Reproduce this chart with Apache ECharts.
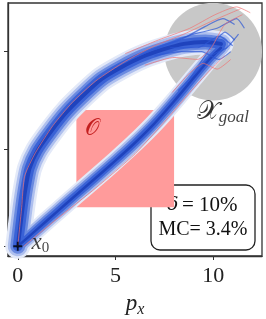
<!DOCTYPE html>
<html><head><meta charset="utf-8">
<script src="https://cdn.jsdelivr.net/npm/echarts@6/dist/echarts.min.js"></script>
<style>html,body{margin:0;padding:0;background:#fff}#c{width:266px;height:319px}</style>
</head><body><div id="c"></div>
<script>
// ---- data ----
const xTicks = [0, 5, 10];
const yTicks = [0, 5, 10];
const xRange = [-0.5, 12.5];
const yRange = [-0.5, 12.5];
const obstacle = [3, 7, 8, 2];           // x0, yTop, x1, yBottom
const goalCenter = [10, 10];
const goalRadius = [2.5];
const startPoint = [0, 0];
const upperPath = [[0,0],[0.1,0.8],[0.25,2],[0.4,3],[0.6,4],[1.0,4.9],[1.7,5.9],[2.5,6.9],[3.4,7.8],[4.3,8.6],[5.3,9.2],[6.3,9.7],[7.4,10.1],[8.5,10.4],[9.6,10.5],[10.4,10.4]];
const lowerPath = [[0,0],[1,0.88],[2,1.77],[3,2.65],[4,3.52],[5,4.4],[6,5.32],[7,6.32],[8,7.45],[9,8.65],[9.8,9.6],[10.4,10.2]];
const redPaths = [
  [[0.3,0],[2,1.4],[4,3.0],[6,4.75],[7.6,6.5],[8.8,7.9],[9.8,9.0],[10.6,9.8]],
  [[0,0],[0.2,2],[0.35,3.6],[0.9,4.8],[1.8,6.2],[2.8,7.4],[4,8.5],[5.5,9.5],[7,10.3],[8.5,10.9],[10,11.6],[11.4,12.2]],
  [[5.5,9.9],[7.2,10.6],[8.8,11.2],[10.1,11.9],[11.2,12.3],[11.9,12.0]],
  [[7.9,7.9],[8.8,8.9],[9.5,9.4],[10.2,9.1],[10.9,9.6]],
  [[6.5,9.3],[8,9.7],[9.2,9.6],[9.9,10.2],[10.6,11.4],[11.5,11.9]]
];
const bluePaths = [
  [[7,10.1],[8.5,10.7],[9.6,11.3],[10.5,11.7],[11.1,11.4]],
  [[7,9.8],[8.4,10],[9.4,10],[10.3,9.6],[10.9,10.0]],
  [[8.6,8.3],[9.4,9.5],[10,10.4],[10.6,11.0],[11.1,10.6]],
  [[6,9.7],[7.6,10.4],[9,10.9],[10.2,11.2],[11.2,11.7],[11.6,11.2]],
  [[8.2,8.0],[9.1,8.9],[9.9,9.8],[10.7,10.2],[11.3,10.9]],
  [[7.8,10.2],[9.2,10.2],[10.3,10.8],[11.0,10.3]]
];
const obstacleLabelPos = [3.8, 6.05];
const goalLabelPos = [8.9, 6.9];
const startLabelPos = [0.45, 0.15];
const boxSymbol = 'δ';
const boxLines = ['= 10%', 'MC= 3.4%'];

// ---- chart ----
const chart = echarts.init(document.getElementById('c'), null, {renderer: 'canvas'});
const serif = '"Liberation Serif","DejaVu Serif",serif';
const series = [];

series.push({
  type: 'custom', clip: true, z: 1,
  data: [obstacle],
  renderItem: (p, api) => {
    const a = api.coord([api.value(0), api.value(1)]);
    const b = api.coord([api.value(2), api.value(3)]);
    return {type: 'rect', shape: {x: a[0], y: a[1], width: b[0]-a[0], height: b[1]-a[1]}, style: {fill: '#ff9b9b'}};
  }
});
series.push({
  type: 'custom', clip: true, z: 1,
  data: [[goalCenter[0], goalCenter[1], goalRadius[0]]],
  renderItem: (p, api) => {
    const c = api.coord([api.value(0), api.value(1)]);
    const r = api.size([api.value(2), 0])[0];
    return {type: 'circle', shape: {cx: c[0], cy: c[1], r: r}, style: {fill: '#c8c8c8'}};
  }
});

function band(path, layers, z) {
  layers.forEach((l, i) => {
    series.push({
      type: 'line', data: path, showSymbol: false, smooth: 0.2, z: z + i*0.01, silent: true,
      lineStyle: {width: l[0], color: l[1], opacity: l[2], cap: 'round', join: 'round'}
    });
  });
}
const upperLayers = [[25,'#e3e9f8',1],[20,'#aebfee',1],[15,'#6a8ae0',1],[10,'#3a62d6',1],[4,'#1f43bd',1]];
const lowerLayers = [[19,'#e3e9f8',1],[15,'#aebfee',1],[11,'#6a8ae0',1],[7,'#3a62d6',1],[2.5,'#1f43bd',1]];
band(upperPath, upperLayers, 2);
band(lowerPath, lowerLayers, 2);

bluePaths.forEach(p => series.push({type:'line', data:p, showSymbol:false, smooth:0.2, z:3, silent:true,
  lineStyle:{width:1.2, color:'#2c57d4', opacity:0.7}}));
redPaths.forEach(p => series.push({type:'line', data:p, showSymbol:false, smooth:0.2, z:3, silent:true,
  lineStyle:{width:0.9, color:'#f07070', opacity:0.75}}));

series.push({
  type: 'scatter', z: 5, data: [startPoint], symbol: 'path://M4,0h2v10h-2z M0,4h10v2h-10z', symbolSize: 9,
  itemStyle: {color: '#000'}, silent: true
});
series.push({
  type: 'scatter', z: 6, symbolSize: 0, silent: true,
  data: [
    {value: startLabelPos, label: {show: true, position: 'right', formatter: '{x|x}{s|0}'}},
    {value: obstacleLabelPos, label: {show: true, position: 'inside', formatter: '{o|𝒪}'}},
    {value: goalLabelPos, label: {show: true, position: 'right', formatter: '{X|𝒳}{g|goal}'}}
  ],
  label: {
    rich: {
      x: {fontFamily: serif, fontStyle: 'italic', fontSize: 23, color: '#111', lineHeight: 24, verticalAlign: 'top'},
      s: {fontFamily: serif, fontSize: 15, color: '#111', lineHeight: 24, padding: [10,0,0,0]},
      o: {fontFamily: serif, fontSize: 23, color: '#b40000'},
      X: {fontFamily: serif, fontSize: 26, color: '#000', lineHeight: 28},
      g: {fontFamily: serif, fontStyle: 'italic', fontSize: 17, color: '#111', lineHeight: 28, padding: [12,0,0,0]}
    }
  }
});

chart.setOption({
  animation: false,
  backgroundColor: '#fff',
  grid: {left: 8, right: 4, top: 3, bottom: 63, show: true, borderColor: '#333', borderWidth: 1.3, containLabel: false, outerBoundsMode: 'none'},
  xAxis: {
    type: 'value', min: xRange[0], max: xRange[1],
    name: '{p|p}{s|x}', nameLocation: 'middle', nameGap: 36,
    nameTextStyle: {rich: {
      p: {fontFamily: serif, fontStyle: 'italic', fontSize: 23, color: '#222', lineHeight: 24, verticalAlign:'top'},
      s: {fontFamily: serif, fontStyle: 'italic', fontSize: 16, color: '#222', lineHeight: 24, padding: [10,0,0,0]}
    }},
    axisLine: {show: true, onZero: false, lineStyle: {color: '#333', width: 1.3}},
    axisTick: {show: true, length: 4, customValues: xTicks, lineStyle: {color: '#333', width: 1}},
    axisLabel: {customValues: xTicks, fontFamily: serif, fontSize: 22, color: '#222', margin: 9},
    splitLine: {show: false}
  },
  yAxis: {
    type: 'value', min: yRange[0], max: yRange[1],
    axisLine: {show: true, onZero: false, lineStyle: {color: '#333', width: 1.3}},
    axisTick: {show: true, length: 4, customValues: yTicks, lineStyle: {color: '#333', width: 1}},
    axisLabel: {show: false},
    splitLine: {show: false}
  },
  series: series,
  graphic: [{
    type: 'group', z: 100, children: [
      {type: 'rect', shape: {x: 151, y: 185, width: 104, height: 65, r: 9}, style: {fill: '#fff', stroke: '#222', lineWidth: 1.3}},
      {type: 'text', x: 167, y: 205, style: {text: boxSymbol, font: 'italic 19px "DejaVu Serif", serif', fill: '#111', align: 'left', verticalAlign: 'middle'}},
      {type: 'text', x: 182, y: 205, style: {text: boxLines[0], font: '21px ' + serif, fill: '#111', align: 'left', verticalAlign: 'middle'}},
      {type: 'text', x: 203, y: 230, style: {text: boxLines[1], font: '20px ' + serif, fill: '#111', align: 'center', verticalAlign: 'middle'}}
    ]
  }]
});
</script></body></html>
